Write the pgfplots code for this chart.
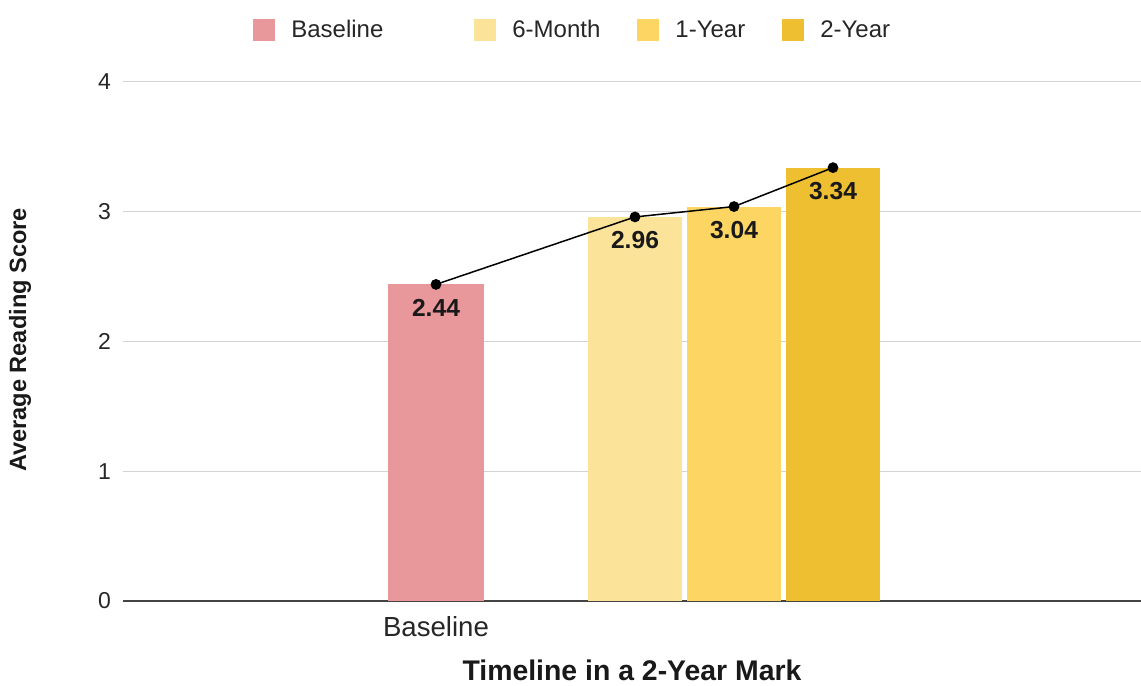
\documentclass[border=0pt]{standalone}
\usepackage{fontspec}
\setmainfont{Liberation Sans}
\usepackage{pgfplots}
\pgfplotsset{compat=1.18}
\definecolor{cBase}{HTML}{E8979A}
\definecolor{cSix}{HTML}{FCE39A}
\definecolor{cOne}{HTML}{FCD563}
\definecolor{cTwo}{HTML}{EEBF30}
\definecolor{gridc}{HTML}{D3D3D3}
\definecolor{zeroc}{HTML}{444444}
\begin{document}
\begin{tikzpicture}
\begin{axis}[
  scale only axis, width=509pt, height=259.5pt,
  xmin=123, xmax=1141, ymin=0, ymax=4,
  clip=false,
  axis line style={draw=none},
  major tick length=0pt,
  ytick={1,2,3,4},
  extra y ticks={0},
  extra y tick style={ymajorgrids=true, major grid style={color=zeroc, line width=0.7pt}},
  ymajorgrids,
  major grid style={color=gridc, line width=0.5pt},
  xtick={436}, xticklabels={Baseline},
  /pgf/number format/assume math mode=true,
  xticklabel style={font=\fontsize{13.8}{15}\selectfont, text=black!85, anchor=north, yshift=-4pt},
  yticklabel style={font=\fontsize{11.5}{13}\selectfont, text=black!85, anchor=east, xshift=-2.5pt},
  xlabel={Timeline in a 2-Year Mark},
  xlabel style={at={(rel axis cs:0.5,-0.133)}, anchor=center, font=\bfseries\fontsize{14.2}{16}\selectfont, text=black!90},
  ylabel={Average Reading Score},
  ylabel style={at={(rel axis cs:-0.101,0.503)}, anchor=center, font=\bfseries\fontsize{11.8}{13}\selectfont, text=black!90},
  legend columns=4,
  legend style={at={(axis cs:253,4.40)}, anchor=west, draw=none, fill=none, inner sep=0pt,
    font=\fontsize{12}{14}\selectfont, text=black!85,
    nodes={text height=0.72em, text depth=0pt},
    /tikz/every odd column/.append style={column sep=6pt},
    /tikz/every even column/.append style={column sep=16.5pt}},
  legend image code/.code={\fill[#1] (0pt,-5.5pt) rectangle (11pt,5.5pt);},
]
\addplot[ybar, bar width=95, bar shift=0pt, fill=cBase, draw=none] coordinates {(436,2.44)};
\addlegendentry{\makebox[73pt][l]{Baseline}}
\addplot[ybar, bar width=94, bar shift=0pt, fill=cSix, draw=none] coordinates {(635,2.96)};
\addlegendentry{6-Month}
\addplot[ybar, bar width=94, bar shift=0pt, fill=cOne, draw=none] coordinates {(734,3.04)};
\addlegendentry{1-Year}
\addplot[ybar, bar width=94, bar shift=0pt, fill=cTwo, draw=none] coordinates {(833,3.34)};
\addlegendentry{2-Year}
\addplot[black, line width=0.75pt, mark=*, mark size=2.3pt, mark options={fill=black},
  nodes near coords, point meta=explicit symbolic,
  nodes near coords style={anchor=north, yshift=-7pt, inner sep=0pt, font=\bfseries\fontsize{12.3}{14}\selectfont, text=black!90},
  forget plot] coordinates {(436,2.44)[2.44] (635,2.96)[2.96] (734,3.04)[3.04] (833,3.34)[3.34]};
\coordinate (bbA) at (axis cs:0,4.632);
\coordinate (bbB) at (axis cs:1141,-0.655);
\end{axis}
\pgfresetboundingbox
\path[use as bounding box] (bbA) rectangle (bbB);
\end{tikzpicture}
\end{document}
